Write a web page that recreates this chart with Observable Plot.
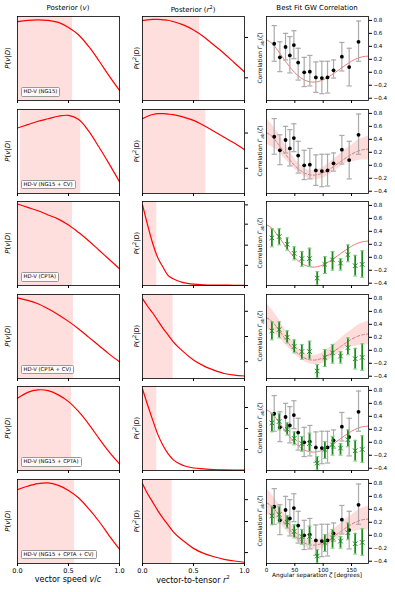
<!DOCTYPE html>
<html><head><meta charset="utf-8">
<script src="https://cdn.jsdelivr.net/npm/d3@7"></script>
<script src="https://cdn.jsdelivr.net/npm/@observablehq/plot@0.6"></script>
<style>
body{margin:0;background:#fff;}
#fig{position:relative;width:395px;height:592px;font-family:"DejaVu Sans",sans-serif;color:#000;overflow:hidden;background:#fff}
.abs{position:absolute;white-space:nowrap;line-height:1}
.title{font-size:7px;transform:translateX(-50%)}
.ylab{transform:translate(-50%,-50%) rotate(-90deg)}
.xlab{transform:translateX(-50%)}
.box{position:absolute;white-space:nowrap;border:0.8px solid #999;border-radius:1.5px;background:rgba(255,255,255,0.85);font-size:5.3px;padding:1.2px 2px;line-height:1}
svg{position:absolute}
</style></head><body><div id="fig"></div><script>
// ---------------- data ----------------
const rowLabels = ["HD-V (NG15)", "HD-V (NG15 + CV)", "HD-V (CPTA)", "HD-V (CPTA + CV)", "HD-V (NG15 + CPTA)", "HD-V (NG15 + CPTA + CV)"];

// posterior of v (normalized density)
const vGrid = [0, 0.1, 0.2, 0.3, 0.4, 0.5, 0.6, 0.7, 0.8, 0.9, 1.0];
const vPost1 = [0.94, 0.955, 0.96, 0.955, 0.93, 0.87, 0.78, 0.64, 0.47, 0.29, 0.12];
const vPost2 = [0.78, 0.82, 0.86, 0.89, 0.92, 0.93, 0.88, 0.74, 0.55, 0.35, 0.14];
const vPost3 = [0.97, 0.93, 0.89, 0.84, 0.79, 0.72, 0.63, 0.53, 0.42, 0.31, 0.20];
const vPost4 = [0.96, 0.93, 0.89, 0.83, 0.76, 0.68, 0.59, 0.49, 0.39, 0.29, 0.20];
const vPost5 = [0.86, 0.93, 0.96, 0.95, 0.90, 0.82, 0.70, 0.55, 0.38, 0.22, 0.08];
const vPost6 = [0.88, 0.92, 0.95, 0.96, 0.93, 0.87, 0.78, 0.65, 0.50, 0.33, 0.17];
const vShade = [[0, 0.54], [0.03, 0.62], [0, 0.54], [0, 0.55], [0, 0.53], [0, 0.56]];

// posterior of r^2 (normalized density)
const rGrid = [0, 0.05, 0.1, 0.15, 0.2, 0.25, 0.3, 0.4, 0.5, 0.6, 0.7, 0.8, 0.9, 1.0];
const rPost1 = [0.95, 0.96, 0.965, 0.965, 0.96, 0.955, 0.94, 0.90, 0.84, 0.76, 0.66, 0.56, 0.45, 0.34];
const rPost2 = [0.89, 0.92, 0.94, 0.95, 0.95, 0.945, 0.94, 0.91, 0.87, 0.81, 0.74, 0.67, 0.60, 0.52];
const rPost3 = [0.96, 0.72, 0.50, 0.33, 0.22, 0.12, 0.08, 0.035, 0.016, 0.008, 0.005, 0.004, 0.003, 0.003];
const rPost4 = [0.95, 0.86, 0.78, 0.69, 0.60, 0.52, 0.44, 0.32, 0.22, 0.15, 0.10, 0.06, 0.04, 0.03];
const rPost5 = [0.97, 0.78, 0.60, 0.43, 0.30, 0.20, 0.13, 0.06, 0.03, 0.02, 0.012, 0.008, 0.006, 0.005];
const rPost6 = [0.95, 0.83, 0.73, 0.63, 0.54, 0.46, 0.38, 0.27, 0.18, 0.12, 0.08, 0.05, 0.03, 0.015];
const rShade = [[0, 0.56], [0, 0.62], [0, 0.14], [0, 0.30], [0, 0.14], [0, 0.29]];
const rTicks = [[0.27, 0.75], [0.3, 0.72], [0, 0.24, 0.48, 0.73, 0.96], [0.2, 0.5, 0.8], [0.25, 0.5, 0.75], [0.13, 0.5, 0.76]];

// correlation data: NG15 (black)
const ngDeg = [13.6, 23.6, 33.6, 41.2, 48.3, 55.9, 66.5, 76.5, 87.1, 97.7, 107.7, 118.3, 133.0, 145.9, 162.4];
const ngVal = [0.44, 0.23, 0.39, 0.26, 0.42, 0.15, 0.00, 0.01, -0.08, -0.09, -0.08, 0.03, 0.24, 0.08, 0.47];
const ngLo  = [0.17, 0.01, 0.19, -0.01, 0.21, -0.12, -0.22, -0.21, -0.31, -0.33, -0.32, -0.09, 0.02, -0.21, 0.17];
const ngHi  = [0.72, 0.47, 0.60, 0.55, 0.64, 0.37, 0.23, 0.26, 0.16, 0.17, 0.17, 0.19, 0.46, 0.37, 0.79];
// CPTA (green)
const cpDeg = [9.5, 22.4, 36.5, 48.9, 62.4, 75.9, 89.5, 103.0, 116.5, 130.6, 143.6, 156.5, 168.9];
const cpVal = [0.30, 0.32, 0.20, 0.06, -0.02, -0.02, -0.32, -0.11, -0.04, -0.09, 0.04, -0.13, -0.11];
const cpLo  = [0.16, 0.19, 0.11, -0.04, -0.14, -0.14, -0.43, -0.25, -0.20, -0.20, -0.07, -0.29, -0.31];
const cpHi  = [0.44, 0.44, 0.30, 0.16, 0.09, 0.14, -0.22, 0.01, 0.09, -0.02, 0.19, 0.03, 0.10];
// best fit curve and band
const fitDeg = [0, 10, 20, 30, 40, 50, 60, 70, 80, 90, 100, 110, 120, 130, 140, 150, 160, 170, 180];
const fitVal = [0.5, 0.443, 0.334, 0.212, 0.094, -0.006, -0.082, -0.131, -0.151, -0.145, -0.116, -0.069, -0.011, 0.052, 0.114, 0.17, 0.213, 0.24, 0.25];
const bandLo = [0.33, 0.28, 0.22, 0.12, 0.03, -0.06, -0.13, -0.19, -0.22, -0.22, -0.20, -0.15, -0.09, -0.03, 0.03, 0.05, 0.07, 0.08, 0.08];
const bandHi = [0.72, 0.62, 0.50, 0.36, 0.22, 0.10, 0.00, -0.06, -0.08, -0.07, -0.03, 0.03, 0.10, 0.17, 0.25, 0.31, 0.38, 0.42, 0.45];
// which data sets per row
const rowHasNG = [true, true, false, false, true, true];
const rowHasCP = [false, false, true, true, true, true];
const rowHasBand = [false, true, false, true, false, true];

const vTicks = [0, 0.5, 1];
const degTicks = [0, 50, 100, 150];
const corrTicks = [-0.4, -0.2, 0, 0.2, 0.4, 0.6, 0.8];

// ---------------- layout ----------------
const fig = document.getElementById("fig");
const FW = 102, FH = 84;
const colLeft = [17, 142, 266];
const rowTop = [16, 108.5, 201, 293.5, 386, 478.5];
const M = {l: 2, r: 30, t: 2, b: 16};
const FONT = '"DejaVu Sans", sans-serif';
const vPosts = [vPost1, vPost2, vPost3, vPost4, vPost5, vPost6];
const rPosts = [rPost1, rPost2, rPost3, rPost4, rPost5, rPost6];

const zip = (xs, ys) => xs.map((x, i) => ({x, y: ys[i]}));
const capSymbol = {draw(ctx, size) { const r = Math.sqrt(size / Math.PI); ctx.moveTo(-r, 0); ctx.lineTo(r, 0); }};

function place(svg, col, row) {
  svg.style.left = (colLeft[col] - M.l) + "px";
  svg.style.top = (rowTop[row] - M.t) + "px";
  fig.appendChild(svg);
}
function baseOpts(fs) {
  return {width: FW + M.l + M.r, height: FH + M.t + M.b, marginLeft: M.l, marginRight: M.r, marginTop: M.t, marginBottom: M.b,
    style: {fontFamily: FONT, fontSize: fs, background: "transparent", overflow: "visible", color: "#000"}};
}
function addText(html, cls, left, top, fs, extra) {
  const d = document.createElement("div");
  d.className = "abs " + cls;
  d.style.left = left + "px"; d.style.top = top + "px"; d.style.fontSize = fs + "px";
  if (extra) Object.assign(d.style, extra);
  d.innerHTML = html;
  fig.appendChild(d);
  return d;
}

for (let r = 0; r < 6; r++) {
  const last = r === 5;
  // column 1: v posterior
  place(Plot.plot({...baseOpts("6.5px"),
    x: {domain: [0, 1], ticks: vTicks, tickSize: 3, tickPadding: 2, tickFormat: last ? d3.format(".1f") : () => "", label: null},
    y: {domain: [0, 1], axis: null},
    marks: [
      Plot.rect([vShade[r]], {x1: d => d[0], x2: d => d[1], y1: 0, y2: 1, fill: "#ffdede"}),
      Plot.line(zip(vGrid, vPosts[r]), {x: "x", y: "y", stroke: "#ff0000", strokeWidth: 1.2, curve: "catmull-rom"}),
      Plot.frame({stroke: "#000", strokeWidth: 0.8})
    ]}), 0, r);
  // column 2: r^2 posterior
  place(Plot.plot({...baseOpts("6.5px"),
    x: {domain: [0, 1], ticks: vTicks, tickSize: 3, tickPadding: 2, tickFormat: last ? d3.format(".1f") : () => "", label: null},
    y: {domain: [0, 1], axis: "right", ticks: rTicks[r], tickSize: 3, tickFormat: () => "", label: null},
    marks: [
      Plot.rect([rShade[r]], {x1: d => d[0], x2: d => d[1], y1: 0, y2: 1, fill: "#ffdede"}),
      Plot.line(zip(rGrid, rPosts[r]), {x: "x", y: "y", stroke: "#ff0000", strokeWidth: 1.2, curve: "monotone-x"}),
      Plot.frame({stroke: "#000", strokeWidth: 0.8})
    ]}), 1, r);
  // column 3: correlation
  const ng = ngDeg.map((x, i) => ({x, y: ngVal[i], lo: ngLo[i], hi: ngHi[i]}));
  const cp = cpDeg.map((x, i) => ({x, y: cpVal[i], lo: cpLo[i], hi: cpHi[i]}));
  const fit = fitDeg.map((x, i) => ({x, y: fitVal[i], lo: bandLo[i], hi: bandHi[i]}));
  const marks = [];
  if (rowHasBand[r]) {
    marks.push(Plot.areaY(fit, {x: "x", y1: "lo", y2: "hi", fill: "#ff9a9a", fillOpacity: 0.35, curve: "natural"}));
    marks.push(Plot.line(fit, {x: "x", y: "y", stroke: "#c98080", strokeWidth: 1, strokeDasharray: "3,2", curve: "natural"}));
  } else {
    marks.push(Plot.line(fit, {x: "x", y: "y", stroke: "#f07a7a", strokeWidth: 1, curve: "natural"}));
  }
  if (rowHasNG[r]) {
    marks.push(Plot.ruleX(ng, {x: "x", y1: "lo", y2: "hi", stroke: "#aaaaaa", strokeWidth: 1.2}));
    marks.push(Plot.dot(ng, {x: "x", y: "lo", symbol: capSymbol, r: 2.6, stroke: "#aaaaaa", strokeWidth: 1.2}));
    marks.push(Plot.dot(ng, {x: "x", y: "hi", symbol: capSymbol, r: 2.6, stroke: "#aaaaaa", strokeWidth: 1.2}));
    marks.push(Plot.dot(ng, {x: "x", y: "y", fill: "#000", r: 1.9}));
  }
  if (rowHasCP[r]) {
    marks.push(Plot.ruleX(cp, {x: "x", y1: "lo", y2: "hi", stroke: "#1c8a1c", strokeWidth: 1.8}));
    marks.push(Plot.dot(cp, {x: "x", y: "lo", symbol: capSymbol, r: 2, stroke: "#7fd17f", strokeWidth: 1}));
    marks.push(Plot.dot(cp, {x: "x", y: "hi", symbol: capSymbol, r: 2, stroke: "#7fd17f", strokeWidth: 1}));
    marks.push(Plot.dot(cp, {x: "x", y: "y", symbol: "times", r: 2.2, stroke: "#1c8a1c", strokeWidth: 1}));
  }
  marks.push(Plot.frame({stroke: "#000", strokeWidth: 0.8}));
  place(Plot.plot({...baseOpts("5.6px"),
    x: {domain: [0, 180], ticks: degTicks, tickSize: 3, tickPadding: 2, tickFormat: last ? d3.format("d") : () => "", label: null},
    y: {domain: [-0.435, 0.86], axis: "right", ticks: corrTicks, tickSize: 3, tickPadding: 2, tickFormat: d3.format(".1f"), label: null},
    marks}), 2, r);

  // row texts
  const cy = rowTop[r] + FH / 2;
  addText("<i>P</i>(<i>v</i>|<i>D</i>)", "ylab", 8, cy, 7);
  addText("<i>P</i>(<i>r</i><sup style='font-size:5px'>2</sup>|<i>D</i>)", "ylab", 136, cy, 6.6);
  addText("Correlation <i>Γ</i><sub style='font-size:4.4px'><i>ab</i></sub>(<i>ζ</i>)", "ylab", 261.5, cy, 5.9);
  const b = document.createElement("div");
  b.className = "box";
  b.textContent = rowLabels[r];
  b.style.left = (colLeft[0] + 3.5) + "px";
  b.style.top = (rowTop[r] + FH - 13) + "px";
  fig.appendChild(b);
}

// titles
addText("Posterior (<i>v</i>)", "title", 68, 5, 7);
addText("Posterior (<i>r</i><sup style='font-size:5px'>2</sup>)", "title", 193, 4.5, 7);
addText("Best Fit GW Correlation", "title", 317, 5, 7);
// x labels
addText("vector speed <i>v</i>/<i>c</i>", "xlab", 68, 576, 8);
addText("vector-to-tensor <i>r</i><sup style='font-size:5.5px'>2</sup>", "xlab", 193, 575, 8);
addText("Angular separation <i>ζ</i> [degrees]", "xlab", 317, 573, 5.8);
</script></body></html>
